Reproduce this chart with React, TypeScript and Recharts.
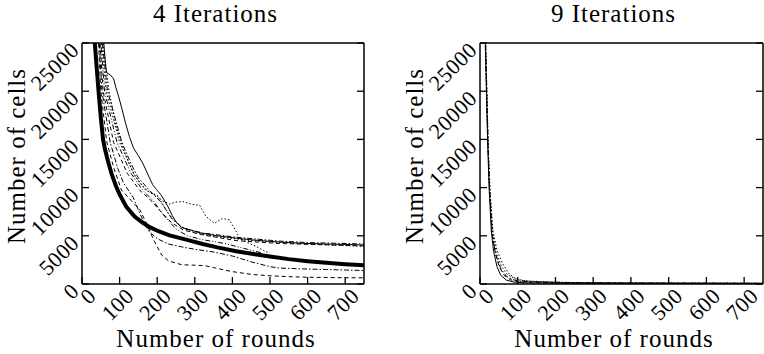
import { LineChart, Line, XAxis, YAxis } from 'recharts'

type Pt = [number, number]

const X_TICKS = [0, 100, 200, 300, 400, 500, 600, 700]
const Y_TICKS = [0, 5000, 10000, 15000, 20000, 25000]

// 4 iterations: [round, cells]
const mean4: Pt[] = [[25, 34000], [30, 28500], [34, 25000], [40, 22000], [44, 20000], [50, 17300], [56, 15000], [61, 14000], [70, 12600], [79, 11400], [90, 10200], [100, 9300], [118, 8000], [140, 7000], [160, 6400], [180, 5900], [205, 5450], [233, 5050], [277, 4600], [321, 4150], [360, 3800], [410, 3400], [460, 3080], [500, 2850], [550, 2580], [600, 2370], [650, 2200], [700, 2060], [750, 1950]]
const run4a: Pt[] = [[38, 38000], [50, 28000], [58, 25000], [63, 22500], [66, 21900], [75, 21700], [84, 21300], [90, 20400], [97, 19500], [106, 18200], [115, 16800], [126, 15300], [137, 14100], [150, 13300], [162, 12500], [176, 11300], [188, 10300], [198, 9800], [211, 9200], [220, 8600], [229, 8000], [240, 7100], [251, 6400], [264, 5900], [277, 5700], [290, 5600], [300, 5450], [321, 5250], [360, 5000], [410, 4750], [460, 4550], [525, 4350], [600, 4200], [650, 4150], [700, 4100], [750, 4050]]
const run4b: Pt[] = [[34, 38000], [48, 28000], [56, 25000], [72, 20000], [90, 16500], [110, 14000], [125, 12500], [140, 11200], [160, 10200], [180, 9500], [200, 9100], [215, 8600], [233, 8300], [250, 8500], [268, 8550], [290, 8300], [313, 8150], [330, 7000], [352, 6300], [374, 6800], [392, 6650], [410, 5450], [419, 4750], [440, 4300], [463, 3900], [489, 3350], [500, 3250]]
const run4c: Pt[] = [[30, 38000], [40, 29000], [44, 25000], [50, 20000], [66, 14700], [85, 12000], [105, 9750], [130, 8700], [154, 7700], [175, 6000], [190, 4600], [212, 3000], [230, 2400], [265, 2000], [300, 1950], [327, 1900], [350, 1700], [397, 1300], [450, 1000], [500, 850], [550, 760], [600, 700], [700, 650], [750, 640]]
const run4d: Pt[] = [[31, 38000], [41, 29000], [46, 25000], [53, 20000], [75, 14700], [95, 12000], [110, 10500], [136, 9000], [155, 7200], [177, 5500], [200, 4700], [230, 4150], [265, 3850], [300, 3600], [353, 3300], [400, 2900], [450, 2300], [500, 1800], [525, 1650], [600, 1550], [650, 1500], [700, 1450], [750, 1400]]
const run4e: Pt[] = [[36, 38000], [46, 28000], [54, 25000], [68, 20000], [106, 14700], [130, 12500], [150, 11000], [180, 9700], [210, 8500], [240, 6700], [270, 5800], [320, 5300], [410, 4850], [525, 4450], [600, 4300], [750, 4150]]
const run4f: Pt[] = [[33, 38000], [43, 28000], [50, 25000], [60, 20000], [93, 14700], [130, 11500], [162, 9700], [190, 8600], [220, 7000], [250, 5700], [280, 5000], [320, 4600], [380, 4200], [440, 3600], [480, 3200]]
const run4g: Pt[] = [[32, 38000], [42, 28000], [48, 25000], [56, 20000], [84, 14700], [120, 11500], [154, 9700], [180, 8800], [210, 7500], [240, 6300], [270, 5600], [320, 5100], [410, 4500], [525, 4200], [750, 3950]]
const run4h: Pt[] = [[35, 38000], [45, 28000], [52, 25000], [64, 20000], [100, 14700], [140, 11300], [170, 9700], [200, 9200], [230, 7300], [260, 6000], [300, 5300], [360, 4900], [450, 4500], [600, 4150], [750, 3900]]

// 9 iterations
const run9a: Pt[] = [[8, 40000], [14, 25000], [17, 20000], [20, 15000], [24, 10000], [30, 5500], [36, 3400], [45, 1800], [55, 900], [70, 400], [90, 200], [120, 120], [200, 80], [400, 60], [750, 50]]
const run9b: Pt[] = [[8, 40000], [15, 25000], [18, 20000], [21, 15000], [25, 10000], [32, 5200], [40, 3300], [50, 1900], [62, 950], [80, 450], [100, 250], [150, 160], [250, 100], [500, 80], [750, 70]]
const run9c: Pt[] = [[8, 40000], [15, 25000], [19, 19000], [22, 14000], [27, 9500], [34, 5600], [45, 3500], [60, 2100], [78, 1000], [95, 550], [120, 320], [160, 220], [250, 160], [400, 120], [750, 100]]
const run9d: Pt[] = [[8, 40000], [14, 25000], [18, 19000], [22, 13500], [26, 9500], [33, 5000], [42, 3000], [55, 1600], [70, 800], [90, 420], [110, 260], [180, 180], [300, 110], [750, 60]]
const run9e: Pt[] = [[8, 40000], [15, 25000], [18, 19500], [21, 14500], [26, 9800], [33, 5400], [43, 3200], [57, 1800], [72, 1000], [90, 600], [105, 400], [130, 300], [170, 250], [220, 150], [400, 110], [750, 80]]

const SOLID = undefined
const DASHED = '4 3'
const DOTTED = '1.5 2'
const DASHDOT = '5 2 1.5 2'
const DASHDOTDOT = '5 2 1 2 1 2'

const series4 = [
  { pts: run4c, dash: DASHED, w: 1 },
  { pts: run4d, dash: DASHDOT, w: 1 },
  { pts: run4f, dash: DASHDOTDOT, w: 1 },
  { pts: run4g, dash: DASHED, w: 1 },
  { pts: run4h, dash: DOTTED, w: 1 },
  { pts: run4e, dash: DASHDOT, w: 1 },
  { pts: run4b, dash: DOTTED, w: 1 },
  { pts: run4a, dash: SOLID, w: 1 },
  { pts: mean4, dash: SOLID, w: 4 },
]
const series9 = [
  { pts: run9e, dash: DOTTED, w: 1 },
  { pts: run9c, dash: DOTTED, w: 1 },
  { pts: run9d, dash: DASHDOT, w: 1 },
  { pts: run9b, dash: DASHED, w: 1 },
  { pts: run9a, dash: SOLID, w: 1 },
]

const FONT = 'Liberation Serif'
const TICK_LEN = 7
const LABEL_SIZE = 22

const BottomTick = (props: any) => {
  const { x, y, payload } = props
  const px = x + 10
  const py = y + 8
  return (
    <g>
      <line x1={x} y1={y} x2={x} y2={y - TICK_LEN} stroke="#000" strokeWidth={1.3} />
      <text x={px} y={py} dy="0.35em" textAnchor="end" transform={`rotate(-45 ${px} ${py})`}
        fontFamily={FONT} fontSize={LABEL_SIZE} letterSpacing={0.5} fill="#000">{payload.value}</text>
    </g>
  )
}

const LeftTick = (props: any) => {
  const { x, y, payload } = props
  const px = x - 7
  const py = y + 3
  return (
    <g>
      <line x1={x} y1={y} x2={x + TICK_LEN} y2={y} stroke="#000" strokeWidth={1.3} />
      <text x={px} y={py} dy="0.35em" textAnchor="end" transform={`rotate(-45 ${px} ${py})`}
        fontFamily={FONT} fontSize={LABEL_SIZE} letterSpacing={0.5} fill="#000">{payload.value}</text>
    </g>
  )
}

const TopTick = (props: any) => (
  <line x1={props.x} y1={props.y} x2={props.x} y2={props.y + TICK_LEN} stroke="#000" strokeWidth={1.3} />
)
const RightTick = (props: any) => (
  <line x1={props.x} y1={props.y} x2={props.x - TICK_LEN} y2={props.y} stroke="#000" strokeWidth={1.3} />
)

const axisLine = { stroke: '#000', strokeWidth: 1.5 }

function Panel({ series, margin }: { series: { pts: Pt[]; dash?: string; w: number }[]; margin: any }) {
  return (
    <LineChart width={382} height={354} margin={margin}>
      <XAxis dataKey="r" type="number" domain={[0, 750]} ticks={X_TICKS} allowDataOverflow interval={0}
        height={1} tickSize={0} tickMargin={0} axisLine={axisLine} tickLine={false} tick={<BottomTick />} />
      <XAxis xAxisId="top" orientation="top" type="number" domain={[0, 750]} ticks={X_TICKS} allowDataOverflow interval={0}
        height={1} tickSize={0} tickMargin={0} axisLine={axisLine} tickLine={false} tick={<TopTick />} />
      <YAxis type="number" domain={[0, 25000]} ticks={Y_TICKS} allowDataOverflow interval={0}
        width={1} tickSize={0} tickMargin={0} axisLine={axisLine} tickLine={false} tick={<LeftTick />} />
      <YAxis yAxisId="right" orientation="right" type="number" domain={[0, 25000]} ticks={Y_TICKS} allowDataOverflow interval={0}
        width={1} tickSize={0} tickMargin={0} axisLine={axisLine} tickLine={false} tick={<RightTick />} />
      {series.map((s, i) => (
        <Line key={i} data={s.pts.map(([r, c]) => ({ r, c }))} dataKey="c" type="linear" dot={false}
          stroke="#000" strokeWidth={s.w} strokeDasharray={s.dash} isAnimationActive={false} />
      ))}
    </LineChart>
  )
}

export default function App() {
  return (
    <div style={{ position: 'absolute', left: 0, top: 0, width: 764, height: 354, background: '#fff' }}>
      <div style={{ position: 'absolute', left: 0, top: 0 }}>
        <Panel series={series4} margin={{ top: 42, right: 17, bottom: 69, left: 81 }} />
      </div>
      <div style={{ position: 'absolute', left: 382, top: 0 }}>
        <Panel series={series9} margin={{ top: 42, right: 0, bottom: 69, left: 97 }} />
      </div>
      <svg width={764} height={354} style={{ position: 'absolute', left: 0, top: 0, pointerEvents: 'none' }}
        fill="#000" fontSize={25} fontFamily={FONT} letterSpacing={1}>
        <text x={215.5} y={22} textAnchor="middle">4 Iterations</text>
        <text x={613.5} y={22} textAnchor="middle">9 Iterations</text>
        <text x={216} y={347} textAnchor="middle">Number of rounds</text>
        <text x={614} y={347} textAnchor="middle">Number of rounds</text>
        <text x={25} y={156} textAnchor="middle" transform="rotate(-90 25 156)">Number of cells</text>
        <text x={423} y={156} textAnchor="middle" transform="rotate(-90 423 156)">Number of cells</text>
      </svg>
    </div>
  )
}
